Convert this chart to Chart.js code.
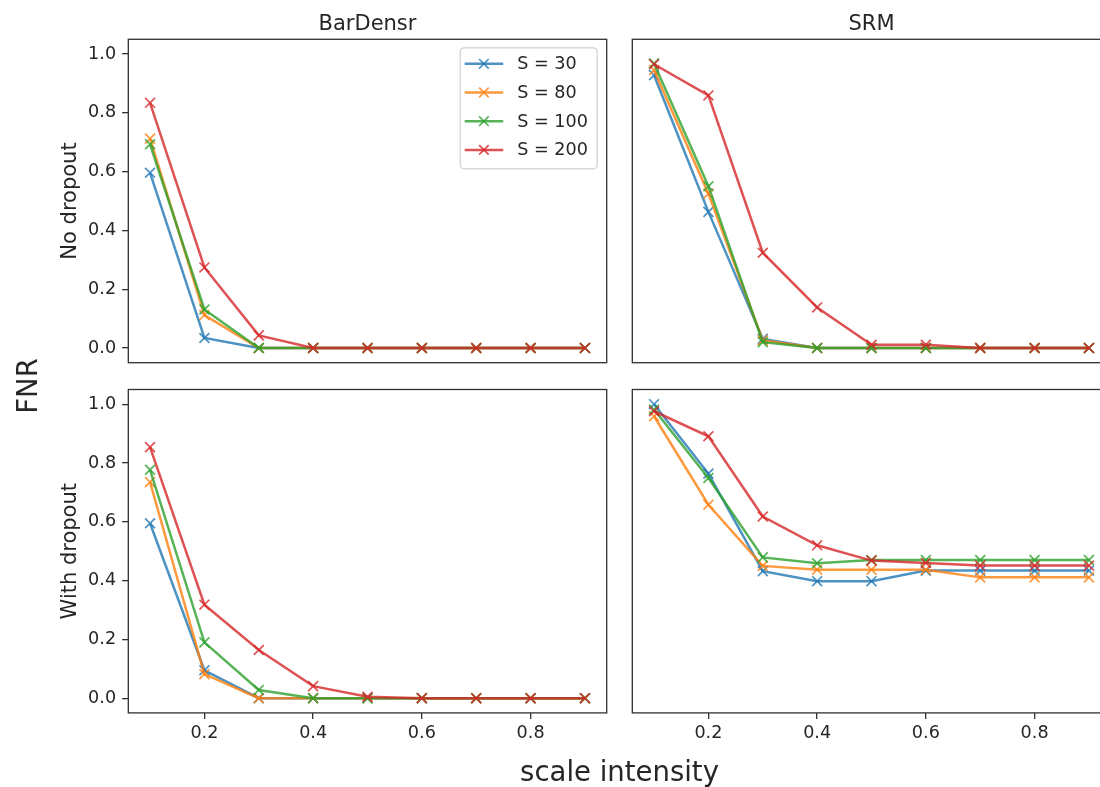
<!DOCTYPE html>
<html>
<head>
<meta charset="utf-8">
<script src="https://cdn.jsdelivr.net/npm/chart.js@4/dist/chart.umd.min.js"></script>
<style>
  html, body { margin: 0; padding: 0; background: #ffffff; }
  #fig { position: relative; width: 1100px; height: 787px; overflow: hidden; background: #ffffff; }
  #fig canvas { position: absolute; left: 0; top: 0; }
</style>
</head>
<body>
<div id="fig">
  <canvas id="c1" width="1120" height="787"></canvas>
  <canvas id="c2" width="1120" height="787"></canvas>
  <canvas id="c3" width="1120" height="787"></canvas>
  <canvas id="c4" width="1120" height="787"></canvas>
</div>
<script>
// ---- data -------------------------------------------------------------
const intensity = [0.1, 0.2, 0.3, 0.4, 0.5, 0.6, 0.7, 0.8, 0.9];
const seriesLabels = ['S = 30', 'S = 80', 'S = 100', 'S = 200'];
const xTicks = [0.2, 0.4, 0.6, 0.8];
const yTicks = [0.0, 0.2, 0.4, 0.6, 0.8, 1.0];
const methods = ['BarDensr', 'SRM'];
const conditions = ['No dropout', 'With dropout'];

// BarDensr, no dropout
const barNo30  = [0.596, 0.034, 0, 0, 0, 0, 0, 0, 0];
const barNo80  = [0.712, 0.112, 0, 0, 0, 0, 0, 0, 0];
const barNo100 = [0.693, 0.131, 0, 0, 0, 0, 0, 0, 0];
const barNo200 = [0.834, 0.274, 0.043, 0, 0, 0, 0, 0, 0];

// SRM, no dropout
const srmNo30  = [0.928, 0.463, 0.031, 0, 0, 0, 0, 0, 0];
const srmNo80  = [0.945, 0.525, 0.026, 0, 0, 0, 0, 0, 0];
const srmNo100 = [0.968, 0.550, 0.020, 0, 0, 0, 0, 0, 0];
const srmNo200 = [0.965, 0.859, 0.324, 0.138, 0.011, 0.011, 0, 0, 0];

// BarDensr, with dropout
const barDrop30  = [0.595, 0.095, 0, 0, 0, 0, 0, 0, 0];
const barDrop80  = [0.735, 0.082, 0, 0, 0, 0, 0, 0, 0];
const barDrop100 = [0.777, 0.190, 0.028, 0, 0, 0, 0, 0, 0];
const barDrop200 = [0.854, 0.318, 0.164, 0.041, 0.005, 0, 0, 0, 0];

// SRM, with dropout
const srmDrop30  = [1.000, 0.764, 0.432, 0.398, 0.398, 0.434, 0.434, 0.434, 0.434];
const srmDrop80  = [0.959, 0.658, 0.450, 0.437, 0.437, 0.437, 0.411, 0.411, 0.411];
const srmDrop100 = [0.982, 0.749, 0.479, 0.459, 0.470, 0.470, 0.470, 0.470, 0.470];
const srmDrop200 = [0.976, 0.891, 0.618, 0.520, 0.468, 0.460, 0.451, 0.451, 0.451];

// ---- styling ----------------------------------------------------------
const FONT = 'DejaVu Sans';
const TEXT = '#262626';
const SPINE = '#303030';
const colors = [
  'rgba(31,119,180,0.8)',
  'rgba(255,127,14,0.8)',
  'rgba(44,160,44,0.8)',
  'rgba(214,39,40,0.8)'
];
const CW = 1120, CH = 787;
const X_RANGE = [0.06, 0.94];
const Y_RANGE = [-0.05, 1.05];

// plot rectangles of the 2x2 grid
const COLS = [{ l: 128.3, r: 606.7 }, { l: 632.3, r: 1110.7 }];
const ROWS = [{ t: 39.3, b: 362.7 }, { t: 389.5, b: 712.9 }];

// ---- plugins ----------------------------------------------------------
const framePlugin = {
  id: 'frame',
  afterDatasetsDraw(chart) {
    const { ctx, chartArea: a } = chart;
    ctx.save();
    ctx.strokeStyle = SPINE;
    ctx.lineWidth = 1.3;
    ctx.strokeRect(a.left, a.top, a.right - a.left, a.bottom - a.top);
    ctx.restore();
  }
};

const panelTitlePlugin = {
  id: 'panelTitle',
  afterDraw(chart, args, opts) {
    if (!opts || !opts.text) return;
    const { ctx, chartArea: a } = chart;
    ctx.save();
    ctx.font = '21px "' + FONT + '"';
    ctx.fillStyle = TEXT;
    ctx.textAlign = 'center';
    ctx.textBaseline = 'alphabetic';
    ctx.fillText(opts.text, (a.left + a.right) / 2, a.top - 9.5);
    ctx.restore();
  }
};

const seriesLegendPlugin = {
  id: 'seriesLegend',
  afterDraw(chart, args, opts) {
    if (!opts || !opts.show) return;
    const { ctx, chartArea: a } = chart;
    const w = 137, h = 121;
    const x0 = a.right - 9.5 - w, y0 = a.top + 8.5;
    ctx.save();
    ctx.beginPath();
    ctx.roundRect(x0, y0, w, h, 4);
    ctx.fillStyle = 'rgba(255,255,255,0.8)';
    ctx.fill();
    ctx.strokeStyle = '#d0d0d0';
    ctx.lineWidth = 1.2;
    ctx.stroke();
    chart.data.datasets.forEach((ds, i) => {
      const cy = y0 + 16 + i * 28.7;
      ctx.strokeStyle = ds.borderColor;
      ctx.lineWidth = 2.5;
      ctx.beginPath();
      ctx.moveTo(x0 + 4.5, cy);
      ctx.lineTo(x0 + 43, cy);
      ctx.stroke();
      const mx = x0 + 23.7, m = 4.8;
      ctx.lineWidth = 1.7;
      ctx.beginPath();
      ctx.moveTo(mx - m, cy - m); ctx.lineTo(mx + m, cy + m);
      ctx.moveTo(mx - m, cy + m); ctx.lineTo(mx + m, cy - m);
      ctx.stroke();
      ctx.fillStyle = TEXT;
      ctx.font = '17.6px "' + FONT + '"';
      ctx.textAlign = 'left';
      ctx.textBaseline = 'middle';
      ctx.fillText(ds.label, x0 + 57, cy + 1);
    });
    ctx.restore();
  }
};

const figureLabelPlugin = {
  id: 'figureLabels',
  afterDraw(chart, args, opts) {
    if (!opts || !opts.show) return;
    const { ctx } = chart;
    ctx.save();
    ctx.fillStyle = TEXT;
    ctx.font = '27.5px "' + FONT + '"';
    ctx.textAlign = 'center';
    ctx.textBaseline = 'alphabetic';
    ctx.fillText(opts.xLabel, (COLS[0].l + COLS[1].r) / 2, 781);
    ctx.translate(30, 386);
    ctx.rotate(-Math.PI / 2);
    ctx.textBaseline = 'middle';
    ctx.fillText(opts.yLabel, 0, 0);
    ctx.restore();
  }
};

// ---- chart builder ----------------------------------------------------
function makeDatasets(seriesList) {
  return seriesList.map((vals, i) => ({
    label: seriesLabels[i],
    data: intensity.map((x, k) => ({ x: x, y: vals[k] })),
    borderColor: colors[i],
    backgroundColor: colors[i],
    borderWidth: 2.5,
    pointStyle: 'crossRot',
    pointRadius: 7,
    pointHoverRadius: 7,
    pointBorderWidth: 1.7,
    tension: 0,
    order: seriesList.length - i
  }));
}

function makePanel(canvasId, row, col, seriesList) {
  const showX = row === 1;
  const showY = col === 0;
  const yW = showY ? 70.3 : 0;
  const xH = showX ? 40 : 0;
  const area = { l: COLS[col].l, r: COLS[col].r, t: ROWS[row].t, b: ROWS[row].b };
  const tickFont = { family: FONT, size: 17.6 };

  return new Chart(document.getElementById(canvasId), {
    type: 'line',
    data: { datasets: makeDatasets(seriesList) },
    options: {
      responsive: false,
      animation: false,
      events: [],
      layout: {
        padding: { left: area.l - yW, right: CW - area.r, top: area.t, bottom: CH - area.b - xH }
      },
      plugins: {
        legend: { display: false },
        tooltip: { enabled: false },
        panelTitle: { text: row === 0 ? methods[col] : '' },
        seriesLegend: { show: row === 0 && col === 0 },
        figureLabels: { show: row === 1 && col === 0, xLabel: 'scale intensity', yLabel: 'FNR' }
      },
      scales: {
        x: {
          type: 'linear',
          min: X_RANGE[0],
          max: X_RANGE[1],
          display: showX,
          afterBuildTicks: s => { s.ticks = xTicks.map(v => ({ value: v })); },
          afterFit: s => { s.height = xH; s.paddingLeft = 0; s.paddingRight = 0; },
          border: { display: false },
          grid: { drawOnChartArea: false, drawTicks: true, tickLength: 6.2, color: SPINE, lineWidth: 1.3 },
          ticks: { font: tickFont, color: TEXT, padding: 4, maxRotation: 0, autoSkip: false,
                   callback: v => v.toFixed(1) }
        },
        y: {
          type: 'linear',
          min: Y_RANGE[0],
          max: Y_RANGE[1],
          display: showY,
          afterBuildTicks: s => { s.ticks = yTicks.map(v => ({ value: v })); },
          afterFit: s => { s.width = yW; s.paddingTop = 0; s.paddingBottom = 0; },
          border: { display: false },
          grid: { drawOnChartArea: false, drawTicks: true, tickLength: 6.2, color: SPINE, lineWidth: 1.3 },
          ticks: { font: tickFont, color: TEXT, padding: 6, autoSkip: false,
                   callback: v => v.toFixed(1) },
          title: { display: showY, text: conditions[row], color: TEXT,
                   font: { family: FONT, size: 21 }, padding: 0 }
        }
      }
    },
    plugins: [framePlugin, panelTitlePlugin, seriesLegendPlugin, figureLabelPlugin]
  });
}

makePanel('c1', 0, 0, [barNo30, barNo80, barNo100, barNo200]);
makePanel('c2', 0, 1, [srmNo30, srmNo80, srmNo100, srmNo200]);
makePanel('c3', 1, 0, [barDrop30, barDrop80, barDrop100, barDrop200]);
makePanel('c4', 1, 1, [srmDrop30, srmDrop80, srmDrop100, srmDrop200]);
</script>
</body>
</html>
